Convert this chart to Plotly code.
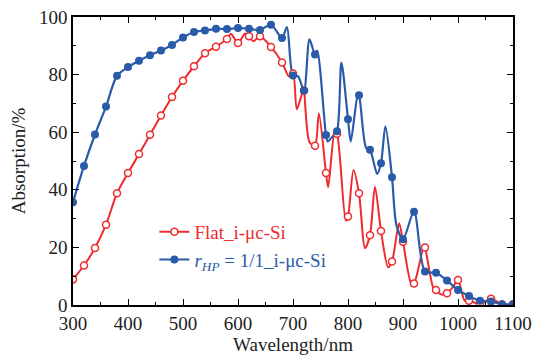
import plotly.graph_objects as go

# Flat_i-µc-Si : dense line points (nm, %)
flat_x = [300, 320, 340, 360, 380, 400, 420, 440, 460, 480, 500, 520, 540, 560, 580, 587, 600, 613, 620, 628,
          640, 660, 680, 693, 700, 707, 719, 720, 730, 740, 747, 760, 764, 776, 780, 796, 800, 810, 820, 831,
          840, 849, 860, 873, 880, 893, 900, 915, 920, 938, 940, 955, 960, 970, 980, 990, 1000, 1012, 1020,
          1040, 1060, 1080, 1100]
flat_y = [8.9, 13.7, 19.8, 27.9, 38.8, 45.8, 52.4, 59.1, 65.8, 72.2, 77.9, 82.9, 87.4, 89.7, 92.4, 94.2, 91.0, 94.3, 93.3, 91.6,
          93.3, 89.6, 84.2, 79.3, 80.4, 68.0, 74.8, 74.5, 56.5, 55.3, 66.6, 45.8, 40.9, 60.2, 59.5, 29.3, 30.7, 46.9, 38.8, 19.7,
          24.2, 41.1, 25.7, 13.1, 15.1, 28.4, 22.0, 7.5, 7.5, 20.5, 20.0, 6.0, 5.2, 3.6, 4.1, 6.0, 8.7, 1.5, 1.5,
          0.4, 2.2, 0.2, 0.3]

# r_HP = 1/1_i-µc-Si : dense line points (nm, %)
hp_x = [300, 320, 340, 360, 380, 400, 420, 440, 460, 480, 500, 520, 540, 560, 580, 600, 620, 640, 660, 680,
        689, 700, 709, 720, 730, 740, 744, 760, 763, 772, 780, 788, 800, 805, 818, 820, 833, 840, 853, 860,
        868, 880, 888, 900, 920, 940, 960, 980, 1000, 1020, 1040, 1060, 1080, 1100]
hp_y = [35.7, 48.3, 59.2, 68.9, 79.6, 82.6, 84.8, 86.7, 88.4, 90.3, 92.9, 94.8, 95.3, 95.9, 95.8, 96.2, 95.9, 95.5, 97.3, 92.7,
        96.5, 79.7, 79.5, 74.5, 92.2, 87.0, 88.3, 59.0, 56.8, 58.5, 60.3, 84.2, 64.5, 56.8, 73.0, 72.8, 54.5, 53.9, 45.5, 49.2,
        62.0, 44.4, 27.8, 22.8, 32.4, 11.6, 11.2, 8.5, 5.2, 3.1, 1.5, 1.2, 0.3, 0.3]

RED = "#ee2b2e"
BLUE = "#2a5ba8"
FONT = "Liberation Serif"

def every20(xs, ys):
    px, py = [], []
    for x, y in zip(xs, ys):
        if x % 20 == 0:
            px.append(x); py.append(y)
    return px, py

fx, fy = every20(flat_x, flat_y)
hx, hy = every20(hp_x, hp_y)

fig = go.Figure()
fig.add_trace(go.Scatter(x=flat_x, y=flat_y, mode="lines", line=dict(color=RED, width=2, shape="spline", smoothing=0.8),
                         showlegend=False, hoverinfo="skip"))
fig.add_trace(go.Scatter(x=hp_x, y=hp_y, mode="lines", line=dict(color=BLUE, width=2.2, shape="spline", smoothing=0.8),
                         showlegend=False, hoverinfo="skip"))
fig.add_trace(go.Scatter(x=fx, y=fy, mode="markers",
                         marker=dict(symbol="circle", size=7, color="white", line=dict(color=RED, width=1.5)),
                         showlegend=False))
fig.add_trace(go.Scatter(x=hx, y=hy, mode="markers",
                         marker=dict(symbol="circle", size=8, color=BLUE, line=dict(width=0)),
                         showlegend=False))
# legend entries
fig.add_trace(go.Scatter(x=[None], y=[None], mode="lines+markers",
                         name=f'<span style="color:{RED}">Flat_i-μc-Si</span>',
                         line=dict(color=RED, width=2),
                         marker=dict(symbol="circle", size=7, color="white", line=dict(color=RED, width=1.5))))
fig.add_trace(go.Scatter(x=[None], y=[None], mode="lines+markers",
                         name=f'<span style="color:{BLUE}"><i>r</i><sub><i>HP</i></sub> = 1/1_i-μc-Si</span>',
                         line=dict(color=BLUE, width=2),
                         marker=dict(symbol="circle", size=8, color=BLUE)))

axis_common = dict(showline=True, linecolor="black", linewidth=1.5, mirror="allticks",
                   ticks="inside", ticklen=6, tickwidth=1.2, tickcolor="black",
                   showgrid=False, zeroline=False, automargin=False,
                   tickfont=dict(family=FONT, size=19, color="#222"))

fig.update_xaxes(range=[300, 1100], tick0=300, dtick=100,
                 minor=dict(ticks="inside", ticklen=3, dtick=50, tick0=300, tickcolor="black"),
                 title=dict(text="Wavelength/nm", font=dict(family=FONT, size=19, color="#222"), standoff=4),
                 **axis_common)
fig.update_yaxes(range=[0, 100], tick0=0, dtick=20,
                 minor=dict(ticks="inside", ticklen=3, dtick=10, tickcolor="black"),
                 title=dict(text="Absorption/%", font=dict(family=FONT, size=19, color="#222"), standoff=8),
                 **axis_common)

fig.update_layout(
    width=549, height=356,
    margin=dict(l=73, r=36, t=17, b=51),
    paper_bgcolor="white", plot_bgcolor="white",
    legend=dict(x=0.185, y=0.32, xanchor="left", yanchor="top", bgcolor="rgba(0,0,0,0)",
                font=dict(family=FONT, size=19), tracegroupgap=0, itemwidth=30),
    showlegend=True,
)

fig.write_html("out.html")
